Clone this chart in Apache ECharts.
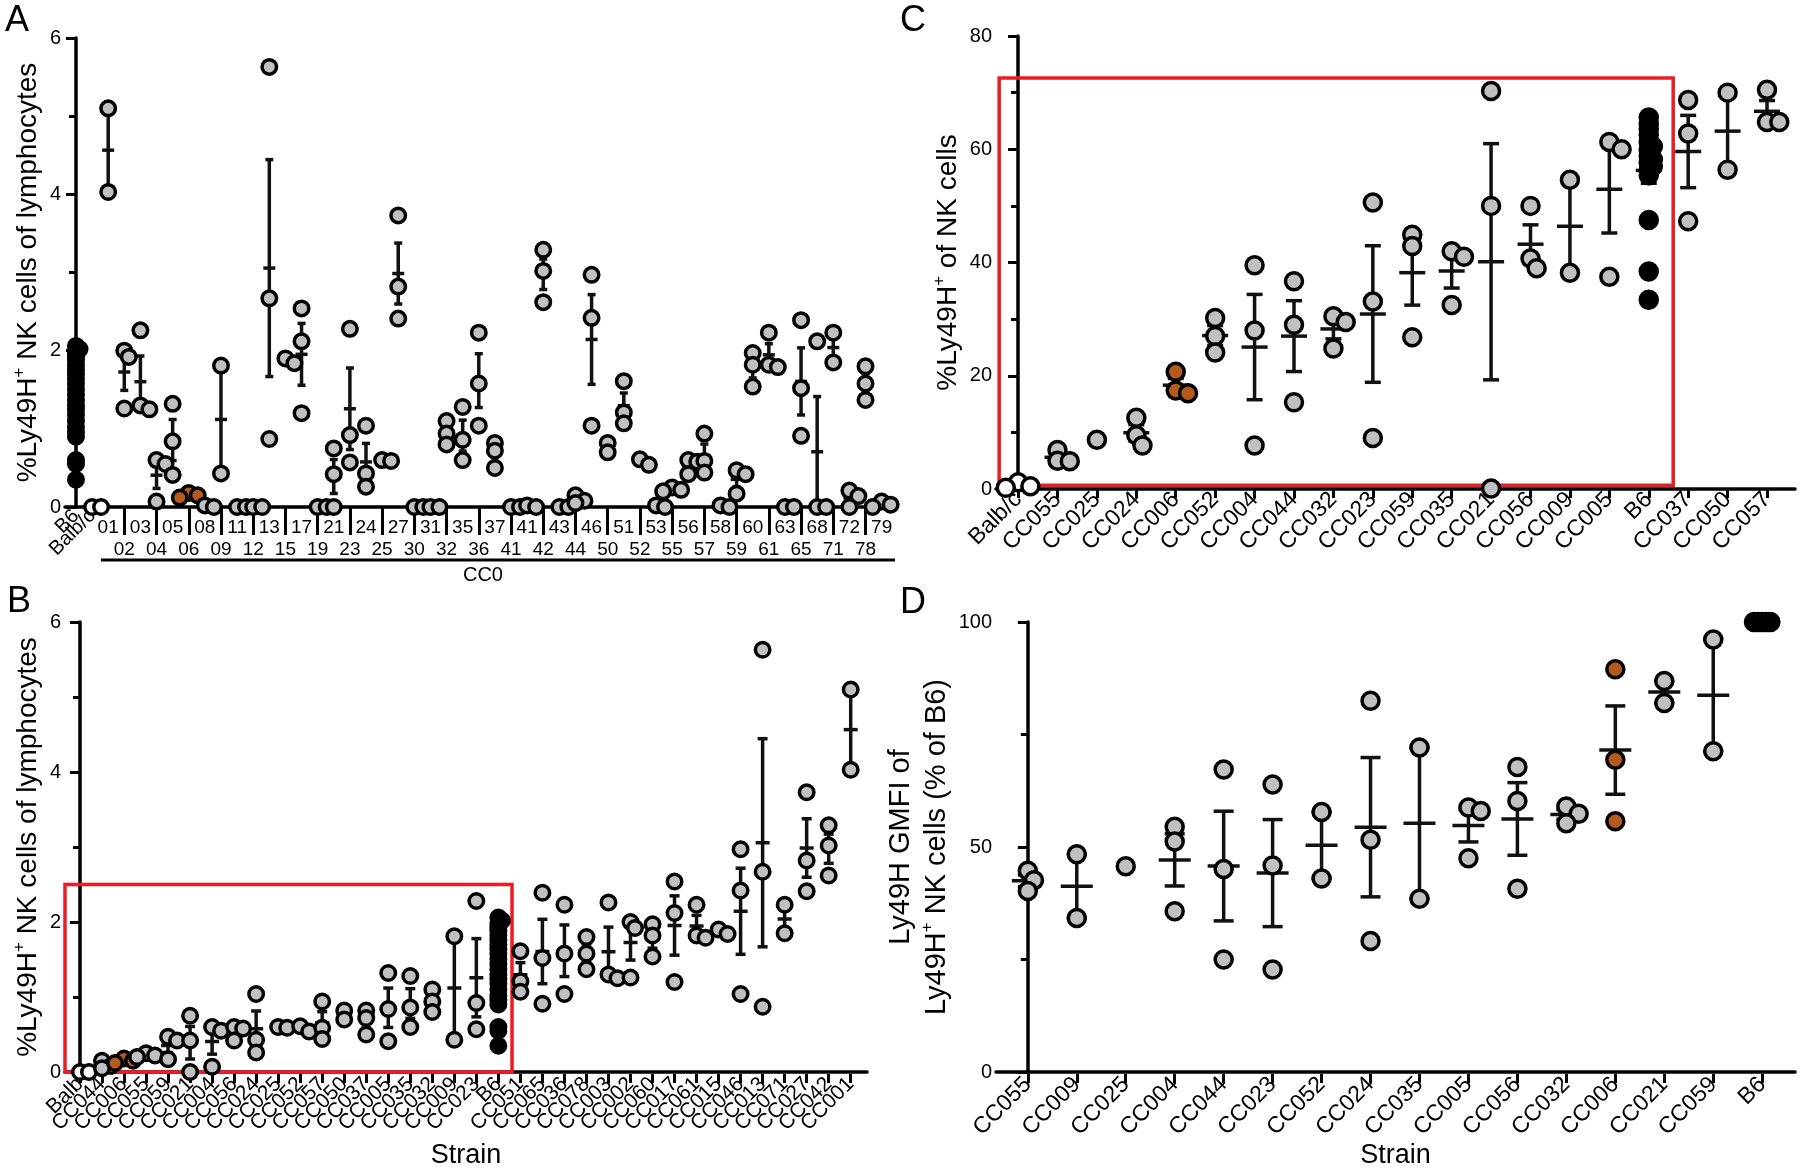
<!DOCTYPE html>
<html>
<head>
<meta charset="utf-8">
<title>Ly49H NK cells across CC strains</title>
<script src="https://cdn.jsdelivr.net/npm/echarts@6/dist/echarts.min.js"></script>
<style>
  html, body { margin: 0; background: #fff; }
  #chart { width: 1800px; height: 1170px; }
</style>
</head>
<body>
<div id="chart"></div>
<script>
const FONT = '"Liberation Sans", Arial, sans-serif'

// Panel A: every strain, CC0xx number under the axis
const aStrains = ['B6', 'Balb/c', '01', '02', '03', '04', '05', '06', '08', '09', '11', '12', '13', '15', '17', '19',
  '21', '23', '24', '25', '27', '30', '31', '32', '35', '36', '37', '41', '41', '42', '43', '44', '46', '50', '51', '52',
  '53', '55', '56', '57', '58', '59', '60', '61', '63', '65', '68', '71', '72', '78', '79']
const aValues = [
  [2.06, 2.02, 1.98, 1.93, 1.88, 1.82, 1.76, 1.7, 1.64, 1.58, 1.51, 1.44, 1.37, 1.3, 1.24, 1.18, 1.1, 1.02, 0.96, 0.9, 0.6, 0.55, 0.35],
  [0, 0],
  [5.1, 4.03], [2.0, 1.92, 1.26], [2.26, 1.3, 1.25], [0.6, 0.55, 0.07], [1.32, 0.84, 0.41], [0.18, 0.15, 0.12],
  [0.02, 0], [1.81, 0.43], [0, 0], [0, 0], [5.63, 2.67, 0.87], [1.9, 1.84], [2.54, 2.12, 1.2], [0, 0],
  [0.75, 0.42, 0], [2.28, 0.92, 0.57], [1.04, 0.43, 0.26], [0.6, 0.59], [3.73, 2.82, 2.41], [0, 0], [0, 0],
  [1.1, 0.94, 0.8], [1.28, 0.86, 0.6], [2.23, 1.58, 1.04], [0.82, 0.72, 0.5], [0, 0], [0.02, 0],
  [3.29, 3.02, 2.62], [0, 0], [0.15, 0.08, 0.05], [2.97, 2.42, 1.04], [0.82, 0.7], [1.61, 1.21, 1.07],
  [0.61, 0.54], [0.02, 0], [0.25, 0.22, 0.2], [0.6, 0.58, 0.42], [0.94, 0.59, 0.44], [0.02, 0],
  [0.47, 0.42, 0.17], [1.97, 1.82, 1.54], [2.23, 1.82, 1.79], [0, 0], [2.39, 1.52, 0.91], [2.12, 0, 0],
  [2.23, 1.85], [0.21, 0.14, 0], [1.8, 1.58, 1.37], [0.07, 0.03, 0]
]

// Panel B: same measurements, strains ordered by mean
const bStrains = ['Balb', 'CC044', 'CC006', 'CC055', 'CC059', 'CC021', 'CC004', 'CC056', 'CC024', 'CC025', 'CC052',
  'CC057', 'CC050', 'CC037', 'CC005', 'CC035', 'CC032', 'CC009', 'CC023', 'B6', 'CC051', 'CC065', 'CC036', 'CC078',
  'CC003', 'CC002', 'CC060', 'CC017', 'CC061', 'CC015', 'CC046', 'CC013', 'CC071', 'CC027', 'CC042', 'CC001']

// Panel C: %Ly49H+ of NK cells
const cStrains = ['Balb/c', 'CC055', 'CC025', 'CC024', 'CC006', 'CC052', 'CC004', 'CC044', 'CC032', 'CC023', 'CC059',
  'CC035', 'CC021', 'CC056', 'CC009', 'CC005', 'B6', 'CC037', 'CC050', 'CC057']
const cValues = [
  [1.2, 0.5, 0.2], [6.9, 5.0, 4.9], [8.7], [12.6, 9.5, 7.7], [20.7, 17.4, 16.9], [30.2, 27.0, 24.1],
  [39.5, 28.0, 7.7], [36.7, 29.0, 15.3], [30.5, 29.5, 24.8], [50.6, 33.1, 9.0], [44.9, 42.9, 26.8],
  [42.0, 41.0, 32.5], [70.3, 50.0, 0.1], [50.0, 40.7, 39.0], [54.6, 38.2], [61.3, 60.0, 37.5],
  [65.6, 64.5, 63.5, 62.5, 61.2, 60.5, 59.8, 58.8, 58.2, 57.6, 57.0, 56.2, 55.4, 47.5, 38.4, 33.4],
  [68.7, 62.8, 47.3], [70.0, 56.4], [70.5, 64.8, 64.8]
]

// Panel D: Ly49H GMFI, % of B6
const dStrains = ['CC055', 'CC009', 'CC025', 'CC004', 'CC044', 'CC023', 'CC052', 'CC024', 'CC035', 'CC005', 'CC056',
  'CC032', 'CC006', 'CC021', 'CC059', 'B6']
const dValues = [
  [44.7, 42.6, 40.2], [48.4, 34.2], [45.7], [54.5, 51.2, 35.7], [67.2, 45.1, 25.0], [63.9, 45.9, 22.8],
  [57.8, 43.0], [82.5, 51.6, 29.1], [72.1, 38.5], [58.8, 58.0, 47.5], [67.8, 60.2, 40.7], [59.0, 57.4, 55.3],
  [89.5, 69.4, 55.7], [86.9, 82.0], [96.1, 71.3], [100, 100, 100, 100, 100]
]

const bValues = bStrains.map(s => {
  const key = s === 'Balb' ? 'Balb/c' : s.startsWith('CC0') ? s.slice(3) : s
  return aValues[aStrains.indexOf(key)]
})

function fillFor(key) {
  if (key === 'B6') return '#000'
  if (key.startsWith('Balb')) return '#fff'
  if (key === '06' || key === 'CC006') return '#b35a1f'
  return '#c0c0c2'
}

const mean = a => a.reduce((s, v) => s + v, 0) / a.length
function sem(a) {
  const m = mean(a)
  return Math.sqrt(a.reduce((s, v) => s + (v - m) * (v - m), 0) / (a.length - 1)) / Math.sqrt(a.length)
}

// spread points that would overlap sideways, a rough beeswarm
function dodge(vals, sx, sy, d, minF, stepF) {
  const order = vals.map((v, i) => i).sort((a, b) => vals[b] - vals[a])
  const placed = []
  const off = vals.map(() => 0)
  order.forEach(i => {
    const y = vals[i] * sy
    let chosen = 0
    search: for (let k = 0; k < 14; k++) {
      for (const s of (k === 0 ? [0] : [k, -k])) {
        const x = s * d * stepF
        if (placed.every(p => Math.hypot(p.x - x, p.y - y) >= d * minF)) { chosen = x; break search }
      }
    }
    placed.push({ x: chosen, y })
    off[i] = chosen / sx
  })
  return off
}

const grids = []
const xAxes = []
const yAxes = []
const series = []

function yAxis(gi, max, interval, name, gap, nameSize) {
  return {
    gridIndex: gi, type: 'value', min: 0, max, interval,
    axisLine: { show: true, lineStyle: { color: '#000', width: 3.5 } },
    axisTick: { show: true, length: 10, lineStyle: { color: '#000', width: 3 } },
    minorTick: { show: true, splitNumber: 2, length: 7, lineStyle: { color: '#000', width: 3 } },
    splitLine: { show: false },
    axisLabel: { color: '#000', fontSize: 20, fontFamily: FONT, margin: 4 },
    name, nameLocation: 'middle', nameGap: gap,
    nameTextStyle: {
      color: '#000', fontSize: nameSize, fontFamily: FONT, lineHeight: nameSize + 7,
      rich: { sup: { fontSize: Math.round(nameSize * 0.6), fontFamily: FONT, color: '#000', verticalAlign: 'top' } }
    }
  }
}

// value x axis that carries the data; only its line is drawn
function xAxisLine(gi, min, max) {
  return {
    gridIndex: gi, type: 'value', min, max, position: 'bottom',
    splitLine: { show: false }, axisTick: { show: false }, axisLabel: { show: false },
    axisLine: { show: true, onZero: false, lineStyle: { color: '#000', width: 3.5 } }
  }
}

// category axis on an overlay grid, lined up with the value axis, for ticks and strain names
function addCategoryLabels(grid, xMin, xMax, labels, axisLabel, axisTick) {
  const sx = grid.width / (xMax - xMin)
  const gi = grids.length
  grids.push({ left: grid.left + (-0.5 - xMin) * sx, width: labels.length * sx, top: grid.top, height: grid.height })
  yAxes.push({ gridIndex: gi, type: 'value', show: false })
  xAxes.push({
    gridIndex: gi, type: 'category', data: labels, boundaryGap: true, position: 'bottom',
    axisLine: { show: false }, splitLine: { show: false },
    axisTick: Object.assign({ show: true, alignWithLabel: true, interval: 0, length: 9, lineStyle: { color: '#000', width: 3 } }, axisTick),
    axisLabel: Object.assign({ interval: 0, color: '#000', fontFamily: FONT }, axisLabel)
  })
}

function errorBars(meanHalf, capHalf) {
  return function (params, api) {
    const x = api.value(0)
    const m = api.value(1)
    const e = api.value(2)
    const pm = api.coord([x, m])
    const lo = api.coord([x, m - e])[1]
    const hi = api.coord([x, m + e])[1]
    const style = { stroke: '#111', lineWidth: 3.5 }
    const seg = (x1, y1, x2, y2) => ({ type: 'line', shape: { x1, y1, x2, y2 }, style })
    return {
      type: 'group',
      children: [
        seg(pm[0], lo, pm[0], hi),
        seg(pm[0] - capHalf, lo, pm[0] + capHalf, lo),
        seg(pm[0] - capHalf, hi, pm[0] + capHalf, hi),
        seg(pm[0] - meanHalf, pm[1], pm[0] + meanHalf, pm[1])
      ]
    }
  }
}

function addPoints(p) {
  const { xi, yi, grid, xMin, xMax, yMax, keys, groups, dot, loose, bar } = p
  const sx = grid.width / (xMax - xMin)
  const sy = grid.height / yMax
  const dots = []
  const bars = []
  groups.forEach((vals, i) => {
    const tight = keys[i] === 'B6'
    const off = dodge(vals, sx, sy, dot + 3.5, tight ? 0.2 : loose[0], tight ? 0.2 : loose[1])
    vals.forEach((v, j) => dots.push({ value: [i + off[j], v], itemStyle: { color: fillFor(keys[i]) } }))
    if (vals.length > 1 && Math.max(...vals) > Math.min(...vals)) bars.push([i, mean(vals), sem(vals)])
  })
  series.push({
    type: 'custom', coordinateSystem: 'cartesian2d', xAxisIndex: xi, yAxisIndex: yi, z: 3, silent: true,
    clip: false, encode: { x: 0, y: 1 }, data: bars, renderItem: errorBars(bar[0], bar[1])
  })
  series.push({
    type: 'scatter', xAxisIndex: xi, yAxisIndex: yi, z: 4, silent: true, clip: false,
    symbolSize: dot, itemStyle: { borderColor: '#000', borderWidth: 3.5, opacity: 1 },
    data: dots
  })
}

function addRedBox(xi, yi, box) {
  series.push({
    type: 'custom', coordinateSystem: 'cartesian2d', xAxisIndex: xi, yAxisIndex: yi, z: 2, silent: true,
    clip: false, encode: { x: [0, 2], y: [1, 3] }, data: [[box.x0, box.y0, box.x1, box.y1]],
    renderItem(params, api) {
      const a = api.coord([api.value(0), api.value(3)])
      const b = api.coord([api.value(2), api.value(1)])
      return {
        type: 'rect', shape: { x: a[0], y: a[1], width: b[0] - a[0], height: b[1] - a[1] },
        style: { fill: 'none', stroke: '#ed1c24', lineWidth: 3.5 }
      }
    }
  })
}

const strainName = { name: 'Strain', nameLocation: 'middle', nameGap: 70, nameTextStyle: { color: '#000', fontSize: 27, fontFamily: FONT } }
const supName = '%Ly49H{sup|+} NK cells of lymphocytes'

// ---------- Panel A ----------
{
  const grid = { left: 65, top: 38, width: 830, height: 469 }
  const xMin = -0.68
  const xMax = 50.83
  const gi = grids.length
  grids.push(grid)
  const xi = xAxes.length
  xAxes.push(xAxisLine(gi, xMin, xMax))
  const yi = yAxes.length
  yAxes.push(yAxis(gi, 6, 2, supName, 17, 28))
  addPoints({ xi, yi, grid, xMin, xMax, yMax: 6, keys: aStrains, groups: aValues, dot: 14.5, loose: [0.4, 0.25], bar: [6, 4] })
  // CC numbers in two staggered rows, long ticks for the lower row
  addCategoryLabels(grid, xMin, xMax, aStrains,
    { fontSize: 19, margin: 10, lineHeight: 22,
      formatter: (v, i) => i < 2 ? '' : (i % 2 === 0 ? v : '\n' + v) },
    { length: 28, interval: i => i >= 3 && i % 2 === 1 })
  // the two reference strains, rotated
  addCategoryLabels(grid, xMin, xMax, aStrains,
    { fontSize: 20, margin: 6, rotate: 45, formatter: (v, i) => i < 2 ? v : '' },
    { show: false })
  // bracket under the CC numbers
  series.push({
    type: 'custom', coordinateSystem: 'cartesian2d', xAxisIndex: xi, yAxisIndex: yi, silent: true, clip: false,
    encode: { x: [0, 1] }, data: [[1.55, xMax]],
    renderItem(params, api) {
      const a = api.coord([api.value(0), 0])
      const b = api.coord([api.value(1), 0])
      return {
        type: 'group',
        children: [
          { type: 'line', shape: { x1: a[0], y1: a[1] + 53, x2: b[0], y2: a[1] + 53 }, style: { stroke: '#000', lineWidth: 3 } },
          { type: 'text', x: (a[0] + b[0]) / 2 - 15, y: a[1] + 58,
            style: { text: 'CC0', fill: '#000', font: '20px ' + FONT, align: 'center', verticalAlign: 'top' } }
        ]
      }
    }
  })
}

// ---------- Panel B ----------
{
  const grid = { left: 65, top: 622, width: 802, height: 452 }
  const xMin = -0.68
  const xMax = 35.74
  const gi = grids.length
  grids.push(grid)
  const xi = xAxes.length
  xAxes.push(Object.assign(xAxisLine(gi, xMin, xMax), strainName))
  const yi = yAxes.length
  yAxes.push(yAxis(gi, 6, 2, supName, 17, 28))
  addRedBox(xi, yi, { x0: xMin, y0: 0, x1: bStrains.indexOf('B6') + 0.62, y1: 2.5 })
  addPoints({ xi, yi, grid, xMin, xMax, yMax: 6, keys: bStrains, groups: bValues, dot: 14.5, loose: [0.4, 0.25], bar: [7, 5] })
  addCategoryLabels(grid, xMin, xMax, bStrains, { fontSize: 21, margin: 7, rotate: 45 }, {})
}

// ---------- Panel C ----------
{
  const grid = { left: 996, top: 36, width: 799, height: 453 }
  const xMin = -0.56
  const xMax = 19.71
  const gi = grids.length
  grids.push(grid)
  const xi = xAxes.length
  xAxes.push(xAxisLine(gi, xMin, xMax))
  const yi = yAxes.length
  yAxes.push(yAxis(gi, 80, 20, '%Ly49H{sup|+} of NK cells', 26, 28))
  addRedBox(xi, yi, { x0: xMin + 0.08, y0: 0.66, x1: cStrains.indexOf('B6') + 0.62, y1: 72.6 })
  addPoints({ xi, yi, grid, xMin, xMax, yMax: 80, keys: cStrains, groups: cValues, dot: 17, loose: [0.5, 0.3], bar: [13, 8] })
  addCategoryLabels(grid, xMin, xMax, cStrains, { fontSize: 23, margin: 7, rotate: 45 }, {})
}

// ---------- Panel D ----------
{
  const grid = { left: 996, top: 622, width: 799, height: 452 }
  const xMin = -0.65
  const xMax = 15.67
  const gi = grids.length
  grids.push(grid)
  const xi = xAxes.length
  xAxes.push(Object.assign(xAxisLine(gi, xMin, xMax), strainName))
  const yi = yAxes.length
  yAxes.push(yAxis(gi, 100, 50, 'Ly49H GMFI of\nLy49H{sup|+} NK cells (% of B6)', 23, 29))
  addPoints({ xi, yi, grid, xMin, xMax, yMax: 100, keys: dStrains, groups: dValues, dot: 17, loose: [0.5, 0.3], bar: [16, 10] })
  addCategoryLabels(grid, xMin, xMax, dStrains, { fontSize: 23, margin: 7, rotate: 45 }, {})
}

const letter = (text, left, top) => ({
  type: 'text', left, top, style: { text, font: '36px ' + FONT, fill: '#000' }
})

const chart = echarts.init(document.getElementById('chart'), null, { renderer: 'canvas' })
chart.setOption({
  animation: false,
  backgroundColor: '#fff',
  textStyle: { fontFamily: FONT },
  grid: grids,
  xAxis: xAxes,
  yAxis: yAxes,
  series,
  graphic: [letter('A', 5, 3), letter('B', 7, 584), letter('C', 900, 3), letter('D', 900, 585)]
})
</script>
</body>
</html>
